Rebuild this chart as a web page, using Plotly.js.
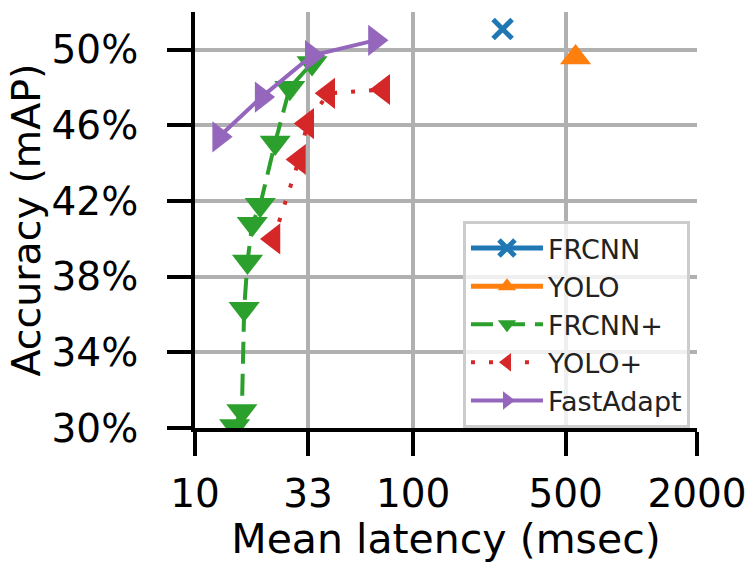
<!DOCTYPE html>
<html>
<head>
<meta charset="utf-8">
<script src="https://cdn.plot.ly/plotly-3.0.1.min.js"></script>
<style>html,body{margin:0;padding:0;background:#fff;}#chart{width:751px;height:563px;}</style>
</head>
<body>
<div id="chart"></div>
<script>
// Data (latency in msec, accuracy in % mAP)
const frcnnLatency = [257];
const frcnnAcc = [51.1];
const yoloLatency = [555];
const yoloAcc = [49.6];
const frcnnPlusLatency = [15.2, 16.4, 16.8, 17.4, 18.3, 19.9, 23.3, 27.2, 34.4];
const frcnnPlusAcc = [30.1, 30.9, 36.3, 38.8, 40.8, 41.8, 45.1, 48.0, 49.3];
const yoloPlusLatency = [22.9, 30.0, 32.7, 40.8, 72.9];
const yoloPlusAcc = [40.0, 44.2, 46.1, 47.7, 47.9];
const fastAdaptLatency = [12.9, 20.2, 34.3, 66.8];
const fastAdaptAcc = [45.4, 47.5, 49.7, 50.5];

const seriesNames = ['FRCNN', 'YOLO', 'FRCNN+', 'YOLO+', 'FastAdapt'];
const xTickVals = [10, 33, 100, 500, 2000];
const xTickText = ['10', '33', '100', '500', '2000'];
const yTickVals = [30, 34, 38, 42, 46, 50];
const yTickText = ['30%', '34%', '38%', '42%', '46%', '50%'];

const FONT = 'DejaVu Sans, sans-serif';

const traces = [
  {x: frcnnLatency, y: frcnnAcc, name: seriesNames[0], mode: 'lines+markers',
   line: {color: '#1f77b4', width: 5},
   marker: {symbol: 'x-thin', size: 19, color: '#1f77b4', line: {color: '#1f77b4', width: 5}}},
  {x: yoloLatency, y: yoloAcc, name: seriesNames[1], mode: 'lines+markers',
   line: {color: '#ff7f0e', width: 5},
   marker: {symbol: 'triangle-up', size: 27, color: '#ff7f0e'}},
  {x: frcnnPlusLatency, y: frcnnPlusAcc, name: seriesNames[2], mode: 'lines+markers',
   line: {color: '#2ca02c', width: 4, dash: '22px,10px'},
   marker: {symbol: 'triangle-down', size: 27, color: '#2ca02c'}},
  {x: yoloPlusLatency, y: yoloPlusAcc, name: seriesNames[3], mode: 'lines+markers',
   line: {color: '#d62728', width: 4, dash: '4px,14px'},
   marker: {symbol: 'triangle-left', size: 27, color: '#d62728'}},
  {x: fastAdaptLatency, y: fastAdaptAcc, name: seriesNames[4], mode: 'lines+markers',
   line: {color: '#9467bd', width: 4},
   marker: {symbol: 'triangle-right', size: 27, color: '#9467bd'}}
];

const layout = {
  width: 751, height: 563,
  margin: {l: 195, r: 54, t: 12, b: 135, pad: 0},
  paper_bgcolor: '#ffffff', plot_bgcolor: '#ffffff',
  font: {family: FONT, color: '#000000', size: 40},
  showlegend: true,
  xaxis: {
    type: 'log',
    range: [1, Math.log10(2000)],
    tickvals: xTickVals, ticktext: xTickText,
    showgrid: true, gridcolor: '#b0b0b0', gridwidth: 4,
    showline: true, linecolor: '#000000', linewidth: 4, mirror: false,
    ticks: 'outside', ticklen: 24, tickwidth: 4, tickcolor: '#000000',
    tickfont: {family: FONT, size: 39, color: '#000000'},
    ticklabelstandoff: 4,
    zeroline: false, automargin: false,
    title: {text: 'Mean latency (msec)', font: {family: FONT, size: 41, color: '#000000'}, standoff: 6}
  },
  yaxis: {
    range: [30, 52],
    tickvals: yTickVals, ticktext: yTickText,
    showgrid: true, gridcolor: '#b0b0b0', gridwidth: 4,
    showline: true, linecolor: '#000000', linewidth: 4, mirror: false,
    ticks: 'outside', ticklen: 24, tickwidth: 4, tickcolor: '#000000',
    tickfont: {family: FONT, size: 39, color: '#000000'},
    ticklabelstandoff: 21,
    zeroline: false, automargin: false,
    title: {text: 'Accuracy (mAP)', font: {family: FONT, size: 39.5, color: '#000000'}, standoff: 0}
  },
  legend: {
    x: 0.986, y: 0.0, xanchor: 'right', yanchor: 'bottom',
    bgcolor: 'rgba(255,255,255,0.8)', bordercolor: '#cccccc', borderwidth: 3,
    font: {family: FONT, size: 27, color: '#222222'},
    itemwidth: 72, traceorder: 'normal'
  }
};

Plotly.newPlot('chart', traces, layout, {displayModeBar: false, staticPlot: true});
</script>
</body>
</html>
